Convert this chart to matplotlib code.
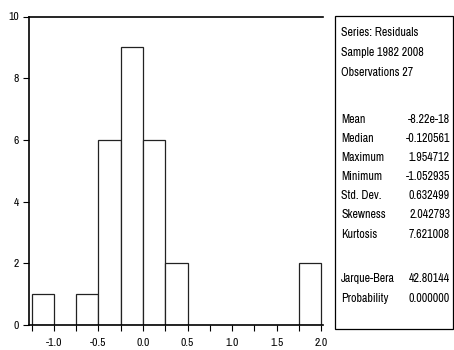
import matplotlib
matplotlib.use("Agg")
import matplotlib.pyplot as plt
from matplotlib import font_manager
import numpy as np

names = {f.name for f in font_manager.fontManager.ttflist}
fam = ['Archivo Narrow', 'Roboto Condensed', 'PT Sans Narrow', 'Liberation Sans', 'DejaVu Sans']
fam = [f for f in fam if f in names] or ['DejaVu Sans']
plt.rcParams['font.family'] = fam

bin_left = [-1.25, -1.0, -0.75, -0.5, -0.25, 0.0, 0.25, 0.5, 0.75, 1.0, 1.25, 1.5, 1.75]
counts = [1, 0, 1, 6, 9, 6, 2, 0, 0, 0, 0, 0, 2]
bin_width = 0.25

xticks = [-1.0, -0.5, 0.0, 0.5, 1.0, 1.5, 2.0]
xtick_labels = ["-1.0", "-0.5", "0.0", "0.5", "1.0", "1.5", "2.0"]
yticks = [0, 2, 4, 6, 8, 10]

stat_labels = ["Mean", "Median", "Maximum", "Minimum", "Std. Dev.", "Skewness", "Kurtosis"]
stat_values = ["-8.22e-18", "-0.120561", "1.954712", "-1.052935", "0.632499", "2.042793", "7.621008"]
test_labels = ["Jarque-Bera", "Probability"]
test_values = ["42.80144", "0.000000"]
header = ["Series: Residuals", "Sample 1982 2008", "Observations 27"]

fig = plt.figure(figsize=(4.54, 3.5), dpi=100)
ax = fig.add_axes([29/454, 25/350, (323-29)/454, (325-16.5)/350])
for l, c in zip(bin_left, counts):
    if c > 0:
        ax.bar(l, c, width=bin_width, align='edge', facecolor='white',
               edgecolor='#222222', linewidth=0.9, zorder=2)
ax.set_xlim(-1.28, 2.02)
ax.set_ylim(0, 10)
ax.spines['right'].set_visible(False)
for s in ['left', 'top', 'bottom']:
    ax.spines[s].set_linewidth(1.2)
ax.set_xticks(xticks)
ax.set_xticklabels(xtick_labels)
ax.set_xticks(np.arange(-1.25, 2.01, 0.25), minor=True)
ax.set_yticks(yticks)
ax.tick_params(axis='both', which='major', direction='out', length=4, width=0.8,
               labelsize=8.3, pad=3)
ax.tick_params(axis='x', which='major', pad=5)
ax.tick_params(axis='x', which='minor', direction='out', length=4, width=0.8)

# stats box
bx0, by0, bx1, by1 = 335/454, 1 - 329/350, 453/454, 1 - 16/350
rect = plt.Rectangle((bx0, by0), bx1 - bx0, by1 - by0, transform=fig.transFigure,
                     facecolor='white', edgecolor='black', linewidth=0.9)
fig.add_artist(rect)

lx = 341/454
rx = 450/454
fs = 8.6
ys = [33, 52, 72]
for t, y in zip(header, ys):
    fig.text(lx, 1 - y/350, t, fontsize=fs, va='center', ha='left')
for i, (a, b) in enumerate(zip(stat_labels, stat_values)):
    y = 119 + i * 19.2
    fig.text(lx, 1 - y/350, a, fontsize=fs, va='center', ha='left')
    fig.text(rx, 1 - y/350, b, fontsize=fs, va='center', ha='right')
for i, (a, b) in enumerate(zip(test_labels, test_values)):
    y = 279 + i * 19.2
    fig.text(lx, 1 - y/350, a, fontsize=fs, va='center', ha='left')
    fig.text(rx, 1 - y/350, b, fontsize=fs, va='center', ha='right')

fig.savefig("out.png", dpi=100)
